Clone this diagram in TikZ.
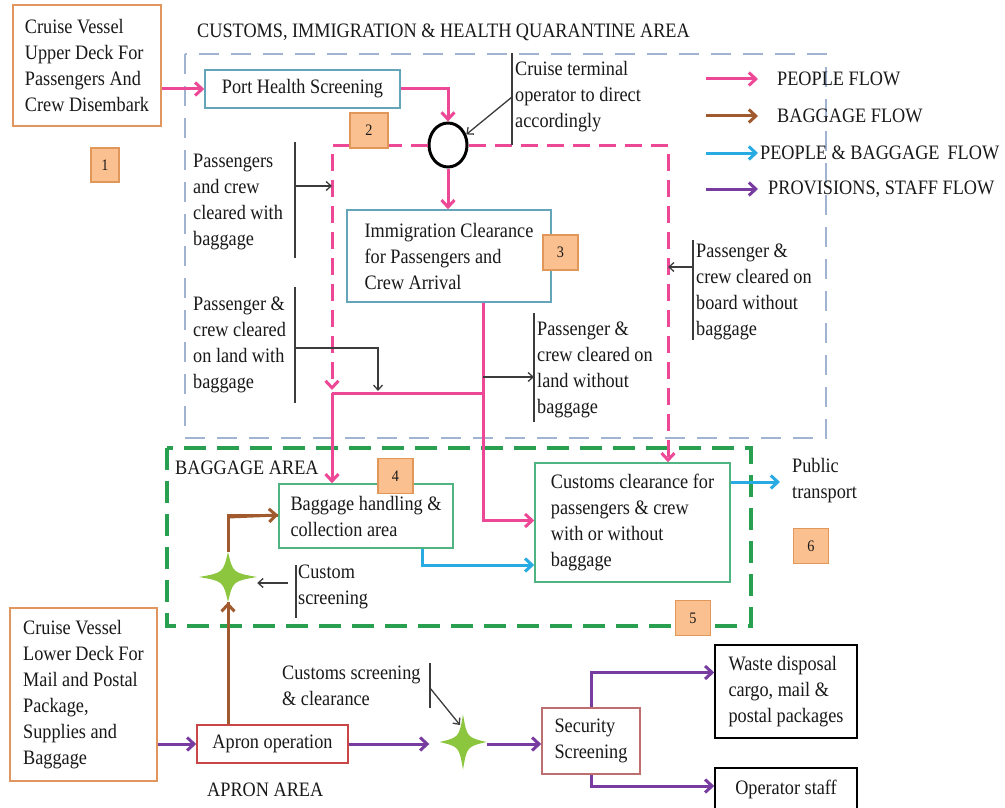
\documentclass[tikz,border=0pt]{standalone}
\usepackage{fontspec}
\setmainfont[FakeStretch=0.89]{Liberation Serif}
\usetikzlibrary{arrows.meta,shapes.geometric}
\definecolor{pinkc}{RGB}{236,72,150}
\definecolor{brownc}{RGB}{160,90,45}
\definecolor{cyanc}{RGB}{40,170,226}
\definecolor{purplec}{RGB}{120,60,160}
\definecolor{bluedashc}{RGB}{160,180,210}
\definecolor{greendashc}{RGB}{40,160,80}
\definecolor{tealb}{RGB}{100,165,185}
\definecolor{greenb}{RGB}{80,180,130}
\definecolor{orangeb}{RGB}{225,150,95}
\definecolor{numfill}{RGB}{250,192,143}
\definecolor{numline}{RGB}{225,150,90}
\definecolor{redb}{RGB}{200,70,70}
\definecolor{secb}{RGB}{190,110,110}
\definecolor{stargreen}{RGB}{140,198,63}
\definecolor{anncol}{RGB}{60,60,60}
\definecolor{txtc}{RGB}{25,25,25}
\tikzset{
  star4/.pic={\fill[stargreen] (0,-1) .. controls (0.17,-0.17) .. (1,0) .. controls (0.17,0.17) .. (0,1) .. controls (-0.17,0.17) .. (-1,0) .. controls (-0.17,-0.17) .. cycle;}
}
\begin{document}
\begin{tikzpicture}[x=1pt,y=-1pt,
  every node/.style={font=\fontsize{20.5}{26}\selectfont, text=txtc},
  box/.style={draw, line width=1.5pt, fill=white, align=left, inner sep=3pt},
  numbox/.style={draw=numline, fill=numfill, line width=1.2pt, minimum width=35pt, minimum height=35pt, inner sep=0pt, font=\fontsize{16}{18}\selectfont},
  txt/.style={inner sep=0pt, anchor=west, align=left},
  starnode/.style={inner sep=0pt},
  flow/.style={line width=3pt, -{Straight Barb[length=7pt,width=13pt]}},
  flowline/.style={line width=3pt},
  pinkdash/.style={draw=pinkc, line width=3pt, dash pattern=on 17pt off 9pt},
  bluedash/.style={draw=bluedashc, line width=2.5pt, dash pattern=on 20pt off 12pt},
  greendashed/.style={draw=greendashc, line width=3.5pt, dash pattern=on 22pt off 11pt},
  annbar/.style={draw=anncol, line width=1.3pt},
  annarr/.style={draw=anncol, line width=1.3pt, -{Straight Barb[length=5pt,width=9pt]}}
]
\useasboundingbox (0,0) rectangle (1005,808);

% ---- areas
\draw[bluedash] (185,54) rectangle (826,438);
\draw[greendashed] (167,448) rectangle (751,626);

% ---- area titles
\node[txt] (title) at (197,32) {CUSTOMS, IMMIGRATION \& HEALTH QUARANTINE AREA};
\node[txt] (bagarea) at (175,468) {BAGGAGE AREA};
\node[txt] (apronarea) at (207,790) {APRON AREA};

% ---- legend
\coordinate (l1s) at (706,79);  \coordinate (l1e) at (758,79);
\coordinate (l2s) at (706,116); \coordinate (l2e) at (758,116);
\coordinate (l3s) at (706,153); \coordinate (l3e) at (758,153);
\coordinate (l4s) at (706,189); \coordinate (l4e) at (758,189);
\draw[flow, pinkc] (l1s) -- (l1e);
\draw[flow, brownc] (l2s) -- (l2e);
\draw[flow, cyanc] (l3s) -- (l3e);
\draw[flow, purplec] (l4s) -- (l4e);
\node[txt] (lg1) at (777,79) {PEOPLE FLOW};
\node[txt] (lg2) at (777,116) {BAGGAGE FLOW};
\node[txt] (lg3) at (760,153) {PEOPLE \& BAGGAGE\, FLOW};
\node[txt] (lg4) at (768,189) {PROVISIONS, STAFF FLOW};

% ---- boxes
\node[box, draw=orangeb, minimum width=148pt, minimum height=121pt] (deck1) at (87,65.5) {Cruise Vessel\\Upper Deck For\\Passengers And\\Crew Disembark};
\node[box, draw=tealb, minimum width=195pt, minimum height=38pt] (phs) at (302.5,89) {Port Health Screening};
\node[box, draw=tealb, minimum width=204pt, minimum height=92pt] (imm) at (449,256) {Immigration Clearance\\for Passengers and\\Crew Arrival};
\node[box, draw=greenb, minimum width=174pt, minimum height=64pt] (bag) at (366,516) {Baggage handling \&\\collection area};
\node[box, draw=greenb, minimum width=195pt, minimum height=119pt] (cust) at (632.5,522.5) {Customs clearance for\\passengers \& crew\\with or without\\baggage};
\node[box, draw=orangeb, minimum width=147pt, minimum height=173pt] (deck2) at (83.5,694.5) {Cruise Vessel\\Lower Deck For\\Mail and Postal\\Package,\\Supplies and\\Baggage};
\node[box, draw=redb, minimum width=151pt, minimum height=38pt] (apron) at (272.5,744) {Apron operation};
\node[box, draw=secb, minimum width=98pt, minimum height=66pt] (sec) at (591,741) {Security\\Screening};
\node[box, draw=black, minimum width=142pt, minimum height=93pt] (waste) at (786,691.5) {Waste disposal\\cargo, mail \&\\postal packages};
\node[box, draw=black, minimum width=142pt, minimum height=42pt] (op) at (786,789) {Operator staff};
\node[txt] (pubt) at (792,481) {Public\\transport};

% ---- junction circle and stars
\node[draw=black, line width=3pt, ellipse, fill=white, minimum width=38pt, minimum height=44pt, inner sep=0pt] (circ) at (448,145) {};
\node[starnode, minimum width=58pt, minimum height=50pt] (s1) at (228,577) {};
\node[starnode, minimum width=47pt, minimum height=55pt] (s2) at (463,742) {};

% ---- pink people flow
\coordinate (pl) at (332,145);
\coordinate (pr) at (668,145);
\coordinate (hb) at (332,393);
\coordinate (imx) at (483,393);
\draw[flow, pinkc] (deck1.east |- phs.west) -- (phs.west);
\draw[flow, pinkc] (phs.east) -| (circ.north);
\draw[pinkdash, -{Straight Barb[length=7pt,width=13pt]}, shorten >=3pt] (circ.west) -- (pl) -- (hb);
\draw[pinkdash, -{Straight Barb[length=7pt,width=13pt]}] (circ.east) -- (pr) -- (pr |- cust.north);
\draw[flow, pinkc] (circ.south) -- (circ.south |- imm.north);
\draw[flowline, pinkc] (hb) -- (imx);
\draw[flow, pinkc] (hb) -- (hb |- bag.north);
\draw[flow, pinkc] (imm.south -| imx) |- ([yshift=2pt]cust.west);

% ---- cyan
\coordinate (cy) at (422,565);
\coordinate (pubtip) at (780,482);
\draw[flow, cyanc] (bag.south -| cy) |- (cust.west |- cy);
\draw[flow, cyanc] (pubtip -| cust.east) -- (pubtip);

% ---- brown
\draw[flowline, brownc] (s1.north) |- ([yshift=1pt]bag.west);
\draw[flowline, brownc] (apron.north -| s1) -- (s1.south);
\pic[xscale=29,yscale=25] at (s1.center) {star4};
\draw[brownc, line width=3pt, -{Straight Barb[length=7pt,width=13pt]}] (s1.south) ++(0,8) -- (s1.south);
\draw[brownc, line width=3pt, -{Straight Barb[length=7pt,width=13pt]}] (s1.north |- bag.west) ++(0,1) -- ([yshift=1pt]bag.west);

% ---- purple
\pic[xscale=23.5,yscale=27.5] at (s2.center) {star4};
\draw[flow, purplec] (deck2.east |- apron.west) -- (apron.west);
\draw[flow, purplec, shorten >=10pt] (apron.east) -- (apron.east -| s2.west);
\draw[flow, purplec] (apron.east -| s2.east) -- (apron.east -| sec.west);
\draw[flow, purplec] (sec.north) |- ([yshift=19pt]waste.west);
\draw[flow, purplec] (sec.south) |- ([yshift=3pt]op.west);

% ---- annotations
\node[txt] (t1) at (193,202) {Passengers\\and crew\\cleared with\\baggage};
\coordinate (b1t) at (295,142); \coordinate (b1b) at (295,258); \coordinate (b1m) at (295,186);
\draw[annbar] (b1t) -- (b1b);
\draw[annarr] (b1m) -- (b1m -| pl);

\node[txt] (t2) at (193,345) {Passenger \&\\crew cleared\\on land with\\baggage};
\coordinate (b2t) at (295,287); \coordinate (b2b) at (295,403); \coordinate (b2m) at (295,348); \coordinate (b2x) at (378,391);
\draw[annbar] (b2t) -- (b2b);
\draw[annarr] (b2m) -| (b2x);

\node[txt] (t3) at (537,370) {Passenger \&\\crew cleared on\\land without\\baggage};
\coordinate (b3t) at (534,313); \coordinate (b3b) at (534,422); \coordinate (b3m) at (534,377);
\draw[annbar] (b3t) -- (b3b);
\draw[annarr] (b3m -| imx) -- (b3m);

\node[txt] (t4) at (696,292) {Passenger \&\\crew cleared on\\board without\\baggage};
\coordinate (b4t) at (693,240); \coordinate (b4b) at (693,340); \coordinate (b4m) at (693,267);
\draw[annbar] (b4t) -- (b4b);
\draw[annarr] (b4m) -- (b4m -| pr);

\node[txt] (t5) at (515,97) {Cruise terminal\\operator to direct\\accordingly};
\coordinate (b5t) at (512,53); \coordinate (b5b) at (512,145); \coordinate (b5m) at (512,97);
\draw[annbar] (b5t) -- (b5b);
\draw[annarr] (b5m) -- (circ.30);

\node[txt] (t6) at (298,587) {Custom\\screening};
\coordinate (b6t) at (296,565); \coordinate (b6b) at (296,618); \coordinate (b6m) at (288,583);
\draw[annbar] (b6t) -- (b6b);
\draw[annarr] (b6m) -- (b6m -| s1.east);

\node[txt] (t7) at (282,686) {Customs screening\\\& clearance};
\coordinate (b7t) at (430,663); \coordinate (b7b) at (430,708); \coordinate (b7m) at (430,688); \coordinate (s2t) at (460,725);
\draw[annbar] (b7t) -- (b7b);
\draw[annarr] (b7m) -- (s2t);

% ---- number tags
\node[numbox, minimum width=28pt, minimum height=34pt] (n1) at (105,165) {1};
\node[numbox, minimum width=38pt] (n2) at (369,130.5) {2};
\node[numbox] (n3) at (560.5,252.5) {3};
\node[numbox] (n4) at (395.5,476) {4};
\node[numbox] (n5) at (693,618) {5};
\node[numbox] (n6) at (811,546) {6};
\end{tikzpicture}
\end{document}
